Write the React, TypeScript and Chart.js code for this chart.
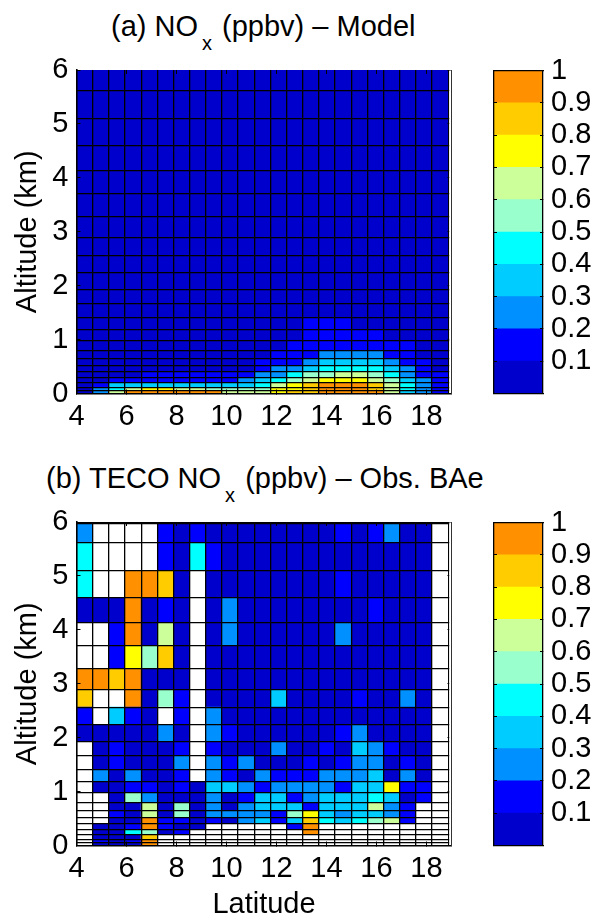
import React, { useEffect, useRef } from "react";
import { Chart, registerables } from "chart.js";

Chart.register(...registerables);

const latEdges = [4, 4.6465, 5.293, 5.9395, 6.586, 7.2325, 7.879, 8.5255, 9.172, 9.8185, 10.465, 11.1115, 11.758, 12.4045, 13.051, 13.6975, 14.344, 14.9905, 15.637, 16.2835, 16.93, 17.5765, 18.223, 18.8695];
const tecoAltEdges = [0, 0.046, 0.113, 0.194, 0.287, 0.398, 0.509, 0.65, 0.798, 0.972, 1.176, 1.404, 1.663, 1.928, 2.237, 2.565, 2.898, 3.287, 3.7, 4.139, 4.594, 5.094, 5.613, 5.972];
const modelAltEdges = [0, 0.046, 0.113, 0.194, 0.287, 0.398, 0.509, 0.65, 0.798, 0.972, 1.176, 1.404, 1.663, 1.928, 2.237, 2.565, 2.898, 3.287, 3.7, 4.139, 4.594, 5.094, 5.613, 6];
const latTicks = [4, 6, 8, 10, 12, 14, 16, 18];
const altTicks = [0, 1, 2, 3, 4, 5, 6];
const barTicks = [0.1, 0.2, 0.3, 0.4, 0.5, 0.6, 0.7, 0.8, 0.9, 1];
const barEdges = [0, 0.1, 0.2, 0.3, 0.4, 0.5, 0.6, 0.7, 0.8, 0.9, 1];
const palette = ["#0000CC", "#0000FF", "#0090FF", "#00CCFF", "#00FFFF", "#99FFCC", "#CCFF99", "#FFFF00", "#FFCC00", "#FF9000"];

const _ = null;
// rows run from the lowest altitude level upward
const modelValues = [
  [.05, .25, .65, .95, .95, .95, .95, .95, .95, .65, .65, .65, .75, .85, .85, .95, .95, .95, .95, .65, .35, .25, .15],
  [.05, .25, .45, .65, .75, .75, .65, .65, .55, .55, .55, .55, .75, .75, .85, .95, .95, .95, .85, .65, .45, .25, .15],
  [.05, .15, .35, .35, .35, .35, .35, .35, .35, .35, .35, .45, .65, .75, .85, .95, .95, .95, .85, .65, .45, .25, .15],
  [.05, .05, .15, .15, .15, .15, .15, .15, .15, .15, .25, .35, .45, .55, .65, .75, .75, .75, .65, .55, .35, .25, .15],
  [.05, .05, .05, .05, .15, .15, .15, .15, .15, .15, .15, .25, .25, .45, .55, .55, .65, .65, .55, .45, .25, .15, .15],
  [.05, .05, .05, .05, .05, .05, .05, .05, .05, .05, .05, .15, .25, .25, .35, .45, .45, .45, .45, .35, .25, .15, .05],
  [.05, .05, .05, .05, .05, .05, .05, .05, .05, .05, .05, .15, .15, .15, .25, .35, .35, .35, .35, .25, .15, .15, .05],
  [.05, .05, .05, .05, .05, .05, .05, .05, .05, .05, .05, .05, .15, .15, .15, .25, .25, .25, .25, .15, .15, .05, .05],
  [.05, .05, .05, .05, .05, .05, .05, .05, .05, .05, .05, .05, .05, .15, .15, .15, .15, .15, .15, .15, .15, .05, .05],
  [.05, .05, .05, .05, .05, .05, .05, .05, .05, .05, .05, .05, .05, .05, .15, .15, .15, .15, .15, .05, .05, .05, .05],
  [.05, .05, .05, .05, .05, .05, .05, .05, .05, .05, .05, .05, .05, .05, .15, .15, .15, .05, .05, .05, .05, .05, .05],
  [.05, .05, .05, .05, .05, .05, .05, .05, .05, .05, .05, .05, .05, .05, .05, .05, .05, .05, .05, .05, .05, .05, .05],
  [.05, .05, .05, .05, .05, .05, .05, .05, .05, .05, .05, .05, .05, .05, .05, .05, .05, .05, .05, .05, .05, .05, .05],
  [.05, .05, .05, .05, .05, .05, .05, .05, .05, .05, .05, .05, .05, .05, .05, .05, .05, .05, .05, .05, .05, .05, .05],
  [.05, .05, .05, .05, .05, .05, .05, .05, .05, .05, .05, .05, .05, .05, .05, .05, .05, .05, .05, .05, .05, .05, .05],
  [.05, .05, .05, .05, .05, .05, .05, .05, .05, .05, .05, .05, .05, .05, .05, .05, .05, .05, .05, .05, .05, .05, .05],
  [.05, .05, .05, .05, .05, .05, .05, .05, .05, .05, .05, .05, .05, .05, .05, .05, .05, .05, .05, .05, .05, .05, .05],
  [.05, .05, .05, .05, .05, .05, .05, .05, .05, .05, .05, .05, .05, .05, .05, .05, .05, .05, .05, .05, .05, .05, .05],
  [.05, .05, .05, .05, .05, .05, .05, .05, .05, .05, .05, .05, .05, .05, .05, .05, .05, .05, .05, .05, .05, .05, .05],
  [.05, .05, .05, .05, .05, .05, .05, .05, .05, .05, .05, .05, .05, .05, .05, .05, .05, .05, .05, .05, .05, .05, .05],
  [.05, .05, .05, .05, .05, .05, .05, .05, .05, .05, .05, .05, .05, .05, .05, .05, .05, .05, .05, .05, .05, .05, .05],
  [.05, .05, .05, .05, .05, .05, .05, .05, .05, .05, .05, .05, .05, .05, .05, .05, .05, .05, .05, .05, .05, .05, .05],
  [.05, .05, .05, .05, .05, .05, .05, .05, .05, .05, .05, .05, .05, .05, .05, .05, .05, .05, .05, .05, .05, .05, .05],
];
const tecoValues = [
  [_, .05, .05, .05, .95, _, _, _, _, _, _, _, _, _, _, _, _, _, _, _, _, _, _],
  [_, .15, .05, .15, .95, _, _, _, _, _, _, _, _, _, _, _, _, _, _, _, _, _, _],
  [_, .05, .05, .05, .85, _, _, _, _, _, _, _, _, _, _, _, _, _, _, _, _, _, _],
  [_, .05, .05, .45, .55, .05, .15, _, _, _, _, _, _, _, .95, _, _, _, _, _, _, _, _],
  [_, .05, .05, .15, .95, .15, .05, .05, _, _, _, _, _, .15, .95, _, _, _, _, _, _, _, _],
  [_, _, .05, .05, .95, .15, .15, .05, .15, .05, .25, .35, .15, .35, .85, .45, .35, .45, .55, .65, .15, _, _],
  [_, _, .15, .05, .65, .05, .55, .05, .25, .25, .25, .25, .15, .55, .75, .35, .25, .35, .35, .25, .15, _, _],
  [_, _, .05, .05, .65, .05, .55, .05, .25, .05, .25, .35, .35, .35, .15, .35, .35, .35, .65, .25, .15, _, _],
  [_, _, .05, .55, .25, .05, .05, .05, .25, .05, .15, .35, .35, .15, .25, .35, .35, .35, .45, .35, .05, .15, _],
  [_, .05, .05, .15, .15, .05, .15, .05, .35, .35, .25, .15, .25, .25, .25, .25, .15, .35, .35, .75, .15, .15, _],
  [_, .25, .05, .25, .05, .05, .15, _, .25, .15, .05, .25, .15, .15, .15, .25, .25, .25, .35, .05, .25, .05, _],
  [_, .05, .15, .05, .05, .05, .25, _, .25, .15, .25, .05, .05, .05, .15, .05, .15, .25, .25, .05, .15, .05, _],
  [_, .05, .15, .05, .05, .05, .15, _, .15, .05, .05, .05, .25, .05, .05, .15, .05, .35, .25, .15, .05, .05, _],
  [.05, .05, .05, .05, .05, .25, .05, _, .25, .15, .05, .05, .05, .05, .05, .05, .15, .25, .05, .05, .05, .05, _],
  [.15, _, .35, .15, .05, _, .15, _, .25, .05, .05, .05, .05, .05, .05, .05, .05, .05, .05, .05, .05, .05, _],
  [.85, _, _, .95, .05, .55, .15, _, .05, .05, .05, .05, .35, .05, .05, .05, .05, .15, .05, .05, .25, .05, _],
  [.95, .95, .85, .95, .05, .05, .05, _, .05, .05, .05, .05, .05, .05, .05, .05, .05, .05, .05, .05, .05, .05, _],
  [_, _, .15, .75, .55, .85, .05, _, .05, .05, .05, .05, .05, .05, .05, .05, .05, .05, .05, .05, .05, .05, _],
  [_, _, .15, .95, .05, .65, .05, _, .05, .25, .05, .05, .05, .05, .05, .05, .25, .05, .05, .05, .05, .05, _],
  [.05, .05, .05, .95, .05, .15, .05, _, .05, .25, .05, .05, .05, .05, .05, .05, .05, .05, .15, .05, .05, .05, _],
  [.45, _, _, .95, .95, .85, .05, _, .05, .05, .05, .05, .05, .05, .05, .05, .15, .05, .05, .05, .05, .05, _],
  [.45, _, _, _, _, .15, .05, .45, .15, .05, .05, .05, .05, .05, .05, .05, .05, .05, .05, .05, .05, .05, _],
  [.25, _, _, _, _, .15, .05, .15, .05, .05, .05, .05, .05, .05, .05, .05, .15, .05, .15, .25, .05, .05, _],
];

const FONT = "'Liberation Sans', Arial, sans-serif";
const tickFont = { family: FONT, size: 29 };
const colorOf = (v: number | null) => (v === null ? "#FFFFFF" : palette[Math.min(9, Math.floor(v * 10))]);

const fixTicks = (values: number[]) => (s: any) => {
  s.ticks = values.map((value) => ({ value }));
};
const fixHeight = (h: number) => (s: any) => {
  s.height = h;
};
const fixWidth = (w: number) => (s: any) => {
  s.width = w;
};
const inward = { drawOnChartArea: false, tickLength: -4, z: 1, color: "#000", lineWidth: 1, offset: false };
const cellLines = { z: 1, color: "#000", lineWidth: 1.3, drawTicks: false, offset: false };

// the cell lines stop at the last column edge; the strip beyond it stays white
const rightStrip = {
  id: "rightStrip",
  afterDraw(chart: any) {
    const { ctx, chartArea, scales } = chart;
    const from = scales.x.getPixelForValue(latEdges[latEdges.length - 1]) + 1;
    ctx.save();
    ctx.fillStyle = "#fff";
    ctx.fillRect(from, chartArea.top + 0.5, chartArea.right - 0.5 - from, chartArea.bottom - chartArea.top - 1);
    ctx.restore();
  },
};

function makeHeat(canvas: HTMLCanvasElement, values: (number | null)[][], altEdges: number[], lineAlts: number[], axisH: number, showXTitle: boolean, topLine: boolean) {
  const datasets = values.map((row, j) => ({
    data: row.map((_v, i) => ({ x: (latEdges[i] + latEdges[i + 1]) / 2, y: [altEdges[j], altEdges[j + 1]] })),
    backgroundColor: row.map(colorOf),
    borderWidth: 0,
    barPercentage: 1,
    categoryPercentage: 1,
    grouped: false,
  }));
  return new Chart(canvas, {
    type: "bar",
    data: { datasets } as any,
    plugins: [rightStrip],
    options: {
      responsive: false,
      animation: false,
      layout: { padding: { top: 70, right: 145.5, left: 0, bottom: 0 } },
      plugins: { legend: { display: false }, title: { display: false }, tooltip: { enabled: false } },
      scales: {
        x: {
          type: "linear", position: "bottom", min: 4, max: 19, offset: false,
          afterBuildTicks: fixTicks(latTicks), afterFit: fixHeight(axisH),
          grid: inward, border: { color: "#000", width: 1.6, z: 1 },
          ticks: { font: tickFont, color: "#000", padding: 10, autoSkip: false, maxRotation: 0, callback: (v: any) => String(v) },
          title: { display: showXTitle, text: "Latitude", color: "#000", font: { ...tickFont, lineHeight: 0.7 }, padding: 0 },
        },
        xCells: {
          type: "linear", position: "bottom", min: 4, max: 19, offset: false,
          afterBuildTicks: fixTicks(latEdges.slice(1)), afterFit: fixHeight(0),
          ticks: { display: false }, grid: cellLines, border: { display: false },
        },
        xTop: {
          type: "linear", position: "top", min: 4, max: 19, offset: false,
          afterBuildTicks: fixTicks(latTicks), afterFit: fixHeight(0),
          ticks: { display: false }, grid: inward, border: { display: topLine, color: "#000", width: 1, z: 1 },
        },
        y: {
          type: "linear", position: "left", min: 0, max: 6,
          afterBuildTicks: fixTicks(altTicks), afterFit: fixWidth(76.5),
          grid: inward, border: { color: "#000", width: 1.6, z: 1 },
          ticks: { font: tickFont, color: "#000", padding: 12, autoSkip: false, callback: (v: any) => String(v) },
          title: { display: true, text: "Altitude (km)", color: "#000", font: { ...tickFont, lineHeight: 0.8 }, padding: { top: 16, bottom: 0 } },
        },
        yCells: {
          type: "linear", position: "left", min: 0, max: 6,
          afterBuildTicks: fixTicks(lineAlts), afterFit: fixWidth(0),
          ticks: { display: false }, grid: cellLines, border: { display: false },
        },
        yRight: {
          type: "linear", position: "right", min: 0, max: 6,
          afterBuildTicks: fixTicks(altTicks), afterFit: fixWidth(0),
          ticks: { display: false }, grid: inward, border: { color: "#333", width: 1, z: 1 },
        },
      },
    } as any,
  });
}

function makeColorbar(canvas: HTMLCanvasElement) {
  const datasets = palette.map((color, k) => ({
    data: [[barEdges[k], barEdges[k + 1]]],
    backgroundColor: color,
    borderWidth: 0,
    barPercentage: 1,
    categoryPercentage: 1,
    grouped: false,
    yAxisID: "y",
  }));
  const marks = { ...inward, tickLength: -3 };
  return new Chart(canvas, {
    type: "bar",
    data: { labels: [""], datasets } as any,
    options: {
      responsive: false,
      animation: false,
      layout: { padding: { top: 70.5, left: 14, right: 0, bottom: 56.5 } },
      plugins: { legend: { display: false }, title: { display: false }, tooltip: { enabled: false } },
      scales: {
        x: {
          type: "category", position: "bottom", afterFit: fixHeight(0),
          ticks: { display: false }, grid: { display: false }, border: { color: "#000", width: 1.3, z: 1 },
        },
        xTop: {
          type: "linear", position: "top", min: 0, max: 1, afterBuildTicks: fixTicks([]), afterFit: fixHeight(0),
          ticks: { display: false }, grid: { display: false }, border: { color: "#000", width: 1.3, z: 1 },
        },
        yLeft: {
          type: "linear", position: "left", min: 0, max: 1, afterBuildTicks: fixTicks(barTicks), afterFit: fixWidth(0),
          ticks: { display: false }, grid: marks, border: { color: "#000", width: 1.3, z: 1 },
        },
        y: {
          type: "linear", position: "right", min: 0, max: 1, afterBuildTicks: fixTicks(barTicks), afterFit: fixWidth(54),
          grid: marks, border: { color: "#000", width: 1.3, z: 1 },
          ticks: { font: tickFont, color: "#000", padding: 11, autoSkip: false, callback: (v: any) => String(v) },
        },
      },
    } as any,
  });
}

const titleStyle = (left: number, top: number): React.CSSProperties => ({
  position: "absolute", left, top, font: `29px ${FONT}`, lineHeight: "34px", whiteSpace: "pre", color: "#000",
});
const subStyle: React.CSSProperties = { fontSize: 20, position: "relative", top: 14, marginLeft: 4, marginRight: 2 };

export default function App() {
  const a = useRef<HTMLCanvasElement>(null);
  const aBar = useRef<HTMLCanvasElement>(null);
  const b = useRef<HTMLCanvasElement>(null);
  const bBar = useRef<HTMLCanvasElement>(null);
  useEffect(() => {
    const charts = [
      makeHeat(a.current!, modelValues, modelAltEdges, modelAltEdges.slice(1, -1), 56.5, false, false),
      makeColorbar(aBar.current!),
      makeHeat(b.current!, tecoValues, tecoAltEdges, tecoAltEdges.slice(1), 69.5, true, true),
      makeColorbar(bBar.current!),
    ];
    return () => charts.forEach((c) => c.destroy());
  }, []);
  const abs = (left: number, top: number): React.CSSProperties => ({ position: "absolute", left, top, display: "block" });
  return (
    <div style={{ position: "absolute", left: 0, top: 0, width: 597, height: 915, background: "#fff", overflow: "hidden" }}>
      <div style={titleStyle(111, 9)}>(a) NO<span style={subStyle}>x</span> (ppbv) – Model</div>
      <div style={titleStyle(46, 461)}>(b) TECO NO<span style={subStyle}>x</span> (ppbv) – Obs. BAe</div>
      <canvas ref={a} width={597} height={450} style={abs(0, 0)} />
      <canvas ref={aBar} width={117} height={450} style={abs(480, 0)} />
      <canvas ref={b} width={597} height={463} style={abs(0, 452)} />
      <canvas ref={bBar} width={117} height={450} style={abs(480, 452)} />
    </div>
  );
}
